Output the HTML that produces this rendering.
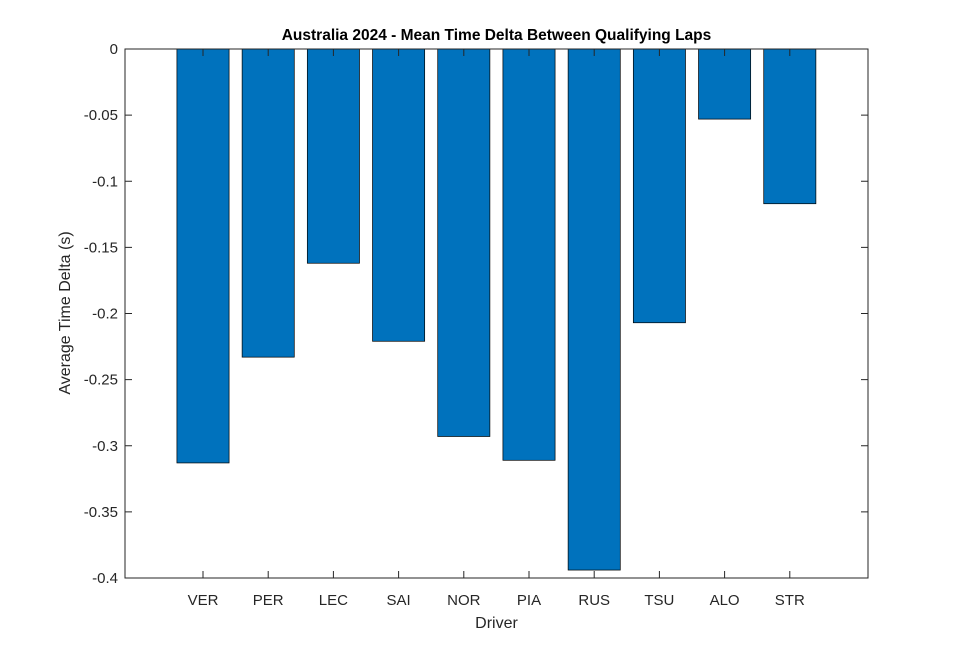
<!DOCTYPE html>
<html><head><meta charset="utf-8"><style>
body{margin:0;background:#fff;}
svg{display:block;font-family:"Liberation Sans",Arial,sans-serif;}
</style></head><body>
<svg id="chart" width="960" height="653" viewBox="0 0 960 653">
<rect width="960" height="653" fill="#fff"/>
<g id="plot"></g>
</svg>
<script>
const categories = ["VER","PER","LEC","SAI","NOR","PIA","RUS","TSU","ALO","STR"];
const values = [-0.313,-0.233,-0.162,-0.221,-0.293,-0.311,-0.394,-0.207,-0.053,-0.117];
const yTicks = [0,-0.05,-0.1,-0.15,-0.2,-0.25,-0.3,-0.35,-0.4];
const yTickLabels = ["0","-0.05","-0.1","-0.15","-0.2","-0.25","-0.3","-0.35","-0.4"];

const L=125,R=868,T=49,B=578;
const NS="http://www.w3.org/2000/svg";
const g=document.getElementById('plot');
const step=65.2, pad=78;
function xs(i){return L+pad+i*step;}
function ys(v){return T+(0-v)/(0.4)*(B-T);}
function mk(tag,attrs,parent){const e=document.createElementNS(NS,tag);for(const k in attrs)e.setAttribute(k,attrs[k]);(parent||g).appendChild(e);return e;}

values.forEach((v,i)=>{
  const bw=step*0.8;
  const y0=ys(0), y1=ys(v);
  const r=mk('rect',{x:xs(i)-bw/2,y:Math.min(y0,y1),width:bw,height:Math.abs(y1-y0),fill:'#0072bd',stroke:'#000','stroke-width':0.7});
  
  
});

const box=mk('rect',{x:L,y:T,width:R-L,height:B-T,fill:'none',stroke:'#262626','stroke-width':1});



yTicks.forEach((t,i)=>{
  const y=ys(t);
  mk('line',{x1:L,x2:L+7,y1:y,y2:y,stroke:'#262626','stroke-width':1});
  mk('line',{x1:R,x2:R-7,y1:y,y2:y,stroke:'#262626','stroke-width':1});
  const tx=mk('text',{x:L-7,y:y+5,'text-anchor':'end','font-size':15,fill:'#262626'});
  tx.textContent=yTickLabels[i];
  
  
});
categories.forEach((c,i)=>{
  const x=xs(i);
  mk('line',{x1:x,x2:x,y1:B,y2:B-7,stroke:'#262626','stroke-width':1});
  mk('line',{x1:x,x2:x,y1:T,y2:T+7,stroke:'#262626','stroke-width':1});
  const tx=mk('text',{x:x,y:B+27,'text-anchor':'middle','font-size':15,fill:'#262626'});
  tx.textContent=c;
  
  
});

const title=mk('text',{x:(L+R)/2,y:40,'text-anchor':'middle','font-size':15.5,'font-weight':'bold',fill:'#000'});
title.textContent='Australia 2024 - Mean Time Delta Between Qualifying Laps';



const xl=mk('text',{x:(L+R)/2,y:628,'text-anchor':'middle','font-size':16,fill:'#262626'});
xl.textContent='Driver';



const yl=mk('text',{x:0,y:0,'text-anchor':'middle','font-size':16,fill:'#262626',transform:'translate(70,313) rotate(-90)'});
yl.textContent='Average Time Delta (s)';


</script>
</body></html>
